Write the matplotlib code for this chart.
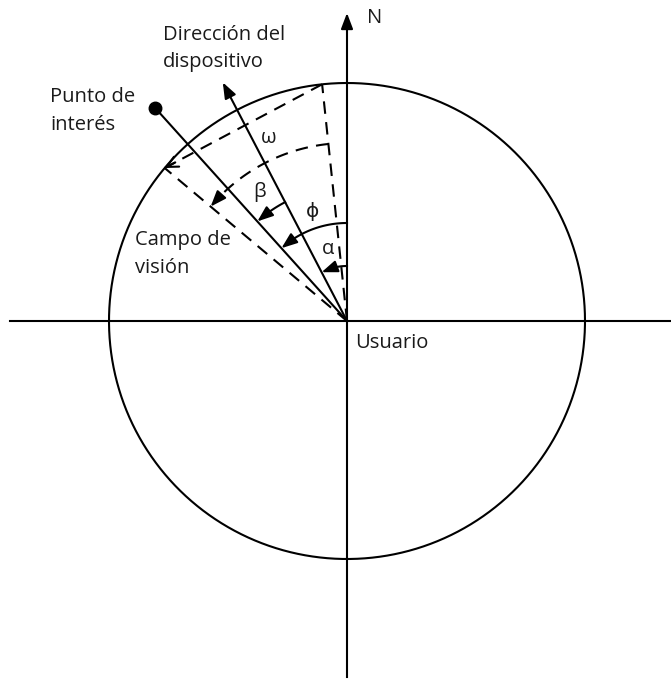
import numpy as np
import matplotlib
matplotlib.use('Agg')
import matplotlib.pyplot as plt

plt.rcParams['font.family'] = ['Open Sans', 'DejaVu Sans']

# ---- data (angles in degrees measured from North towards West, radii in px) ----
circle_radius = 238
device_angle = 27.5
device_length = 269
poi_angle = 42.0
poi_distance = 287
fov_edges = [6.0, 50.0]
fov_inner_radius = 178
arc_labels = ['α', 'ϕ', 'β']
arc_from = [0.0, 0.0, device_angle]
arc_to = [device_angle, poi_angle, poi_angle]
arc_radius = [55, 98, 134]
x_axis_range = [-337, 332]
y_axis_range = [-356, 308]
label_texts = ['N', 'Dirección del', 'dispositivo', 'Punto de', 'interés',
               'Campo de', 'visión', 'Usuario']
greek_texts = ['ω', 'β', 'ϕ', 'α']

W, H = 671, 684
cx, cy = 347, 321  # centre position in image pixels

fig = plt.figure(figsize=(W / 100, H / 100), dpi=100)
ax = fig.add_axes([0, 0, 1, 1])
ax.set_xlim(-cx, W - cx)
ax.set_ylim(cy - H, cy)
ax.axis('off')

LW = 1.5
K = 'black'


def pt(a, r):
    t = np.radians(a)
    return -r * np.sin(t), r * np.cos(t)


def arc_pts(a0, a1, r, n=100):
    a = np.linspace(a0, a1, n)
    return pt(a, r)


def head(tip, base, filled=True):
    style = '-|>,head_length=0.95,head_width=0.36' if filled else '->,head_length=0.8,head_width=0.4'
    ax.annotate('', xy=tip, xytext=base,
                arrowprops=dict(arrowstyle=style, color=K, lw=LW,
                                shrinkA=0, shrinkB=0, mutation_scale=10))


# circle
th = np.linspace(0, 2 * np.pi, 400)
ax.plot(circle_radius * np.cos(th), circle_radius * np.sin(th), color=K, lw=LW)

# axes
ax.plot([x_axis_range[0], x_axis_range[1] - 8], [0, 0], color=K, lw=LW)
head((x_axis_range[1], 0), (x_axis_range[1] - 14, 0))
ax.plot([0, 0], [y_axis_range[0], y_axis_range[1] - 8], color=K, lw=LW)
head((0, y_axis_range[1]), (0, y_axis_range[1] - 14))

# device direction
tip = pt(device_angle, device_length)
base = pt(device_angle, device_length - 14)
ax.plot([0, base[0]], [0, base[1]], color=K, lw=LW)
head(tip, base)

# point of interest
p = pt(poi_angle, poi_distance)
ax.plot([0, p[0]], [0, p[1]], color=K, lw=LW)
ax.plot(p[0], p[1], 'o', color=K, ms=9)

# field of view (dashed)
dash = (0, (6, 4))
for a in fov_edges:
    e = pt(a, circle_radius)
    ax.plot([0, e[0]], [0, e[1]], color=K, lw=LW, linestyle=dash)
# outer chord
e0 = np.array(pt(fov_edges[0], circle_radius))
e1 = np.array(pt(fov_edges[1], circle_radius))
ax.plot([e0[0], e1[0]], [e0[1], e1[1]], color=K, lw=LW, linestyle=dash)
d = (e1 - e0) / np.linalg.norm(e1 - e0)
head(tuple(e1), tuple(e1 - d * 12), filled=False)
# inner arc
xs, ys = arc_pts(fov_edges[0], fov_edges[1] - 3, fov_inner_radius)
ax.plot(xs, ys, color=K, lw=LW, linestyle=dash)
head(pt(fov_edges[1], fov_inner_radius), pt(fov_edges[1] - 3.5, fov_inner_radius))

# angle arcs
for a0, a1, r in zip(arc_from, arc_to, arc_radius):
    da = np.degrees(10 / r)
    xs, ys = arc_pts(a0, a1 - da, r)
    ax.plot(xs, ys, color=K, lw=LW)
    head(pt(a1, r), pt(a1 - da * 1.3, r))

# labels (image pixel positions converted to centred coordinates)
fs = 14.5
tc = '#1a1a1a'
label_x = [367, 163, 163, 50, 50, 135, 135, 355]
label_y = [23, 40, 67, 102, 130, 245, 273, 348]
for s, x, y in zip(label_texts, label_x, label_y):
    ax.text(x - cx, cy - y, s, fontsize=fs, ha='left', va='baseline', color=tc)

greek_x = [269, 260, 313, 328]
greek_y = [138, 192, 212, 249]
for s, x, y in zip(greek_texts, greek_x, greek_y):
    ax.text(x - cx, cy - y, s, fontsize=fs, ha='center', va='center', color=tc)

fig.savefig('out.png', dpi=100)
